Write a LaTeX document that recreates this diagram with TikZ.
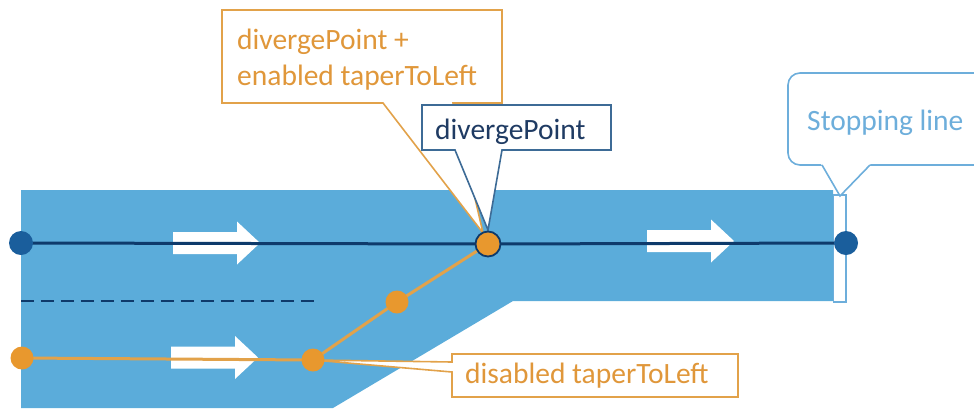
\documentclass[tikz,border=0pt]{standalone}
\usepackage{fontspec}
\setmainfont{Carlito}
\definecolor{road}{HTML}{5BACDA}
\definecolor{navy}{HTML}{0E3A6B}
\definecolor{dotblue}{HTML}{1A5E9C}
\definecolor{orng}{HTML}{E8982E}
\definecolor{orline}{HTML}{E2A24A}
\definecolor{ortext}{HTML}{E0973A}
\definecolor{bbord}{HTML}{3D6B96}
\definecolor{btxt}{HTML}{1F3B63}
\definecolor{lblue}{HTML}{6DAEDB}
\pgfdeclarelayer{bg}
\pgfdeclarelayer{mid}
\pgfsetlayers{bg,mid,main}
\tikzset{
  bluedot/.style={circle,fill=dotblue,minimum size=24pt,inner sep=0pt},
  orangedot/.style={circle,fill=orng,minimum size=23pt,inner sep=0pt},
  divdot/.style={circle,fill=orng,draw=navy,line width=1.8pt,minimum size=25pt,inner sep=0pt},
  navyline/.style={navy,line width=3pt},
  orangeline/.style={orline,line width=3pt},
  dashline/.style={navy,line width=2.2pt,dash pattern=on 13pt off 7pt},
  ocallout/.style={draw=orline,fill=white,line width=1.6pt,line join=miter},
  bcallout/.style={draw=bbord,fill=white,line width=1.6pt},
  scallout/.style={draw=lblue,fill=white,line width=1.6pt},
  txt/.style={inner sep=0pt,anchor=base west,font=\fontsize{29.5}{36}\selectfont},
  otext/.style={txt,text=ortext},
  btext/.style={txt,text=btxt},
  stext/.style={txt,text=lblue},
  blockarrow/.pic={\fill[white] (0,-11) -- (64,-11) -- (64,-21.5) -- (87,0) -- (64,21.5) -- (64,11) -- (0,11) -- cycle;}
}
\begin{document}
\begin{tikzpicture}[x=1pt,y=-1pt]
\useasboundingbox (0,0) rectangle (974,408);
\clip (0,0) rectangle (974,408);
% named positions
\coordinate (L1) at (21,243);
\coordinate (R1) at (846,243);
\coordinate (D) at (488,244);
\coordinate (L2) at (22,358);
\coordinate (T1) at (313,360);
\coordinate (T2) at (397,302);
\begin{pgfonlayer}{bg}
  % road
  \fill[road] (21,190) -- (833,190) -- (833,301) -- (513,301) -- (333,408) -- (21,408) -- cycle;
  % stopping strip
  \draw[lblue,fill=white,line width=1.4pt] (833.5,195) rectangle (846,302);
  % direction arrows
  \pic at (173,243) {blockarrow};
  \pic at (647,241) {blockarrow};
  \pic at (171,357.5) {blockarrow};
\end{pgfonlayer}
\begin{pgfonlayer}{mid}
  \draw[navyline] (L1) -- (D) -- (R1);
  \draw[dashline] (21,301) -- (316,301);
  \draw[orangeline,line join=round] (L2) -- (T1) -- (T2) -- (D);
  % callout: divergePoint + enabled taperToLeft
  \draw[ocallout] (222,10) -- (502,10) -- (502,103) -- (453,103) -- (483,233) -- (383,103) -- (222,103) -- cycle;
  \node[otext] (t1) at (237,49) {divergePoint +};
  \node[otext] (t2) at (237,85) {enabled taperToLeft};
  % callout: divergePoint
  \draw[bcallout] (422,105) -- (611,105) -- (611,150) -- (502,150) -- (488,230) -- (455,150) -- (422,150) -- cycle;
  \node[btext] (t3) at (435,139) {divergePoint};
  % callout: Stopping line
  \draw[scallout,rounded corners=12pt] (788,73) rectangle (1010,165);
  \fill[white] (820.5,163) -- (840,196) -- (871.5,163) -- cycle;
  \draw[lblue,line width=1.6pt] (822,165) -- (840,196) -- (870,165);
  \node[stext] (t4) at (807,130) {Stopping line};
  % callout: disabled taperToLeft
  \draw[ocallout] (452,354) -- (738,354) -- (738,397) -- (452,397) -- (452,372) -- (313,360) -- (452,362) -- cycle;
  \node[otext] (t5) at (465,383) {disabled taperToLeft};
\end{pgfonlayer}
% dots
\node[bluedot] (nL1) at (L1) {};
\node[bluedot] (nR1) at (R1) {};
\node[orangedot] (nL2) at (L2) {};
\node[orangedot] (nT1) at (T1) {};
\node[orangedot] (nT2) at (T2) {};
\node[divdot] (nD) at (D) {};
\end{tikzpicture}
\end{document}
